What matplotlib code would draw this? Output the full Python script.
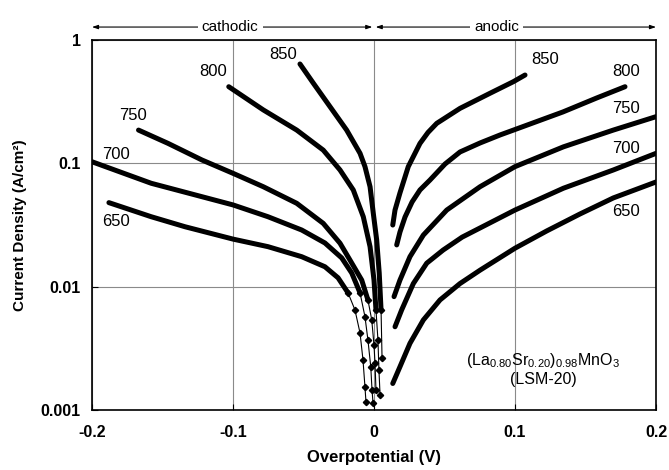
import matplotlib
matplotlib.use('Agg')
import matplotlib.pyplot as plt
import matplotlib.transforms as mtransforms

plt.rcParams['font.family'] = ['Liberation Sans', 'DejaVu Sans']
plt.rcParams['mathtext.fontset'] = 'custom'
plt.rcParams['mathtext.rm'] = 'Liberation Sans'
plt.rcParams['mathtext.it'] = 'Liberation Sans:italic'
plt.rcParams['mathtext.bf'] = 'Liberation Sans:bold'

# ---------------- data (overpotential V, current density A/cm2) ----------------
temps = [650, 700, 750, 800, 850]

# cathodic branches
eta_c_650 = [-0.188, -0.158, -0.134, -0.100, -0.0752, -0.0513, -0.0348, -0.0255, -0.0184, -0.0135, -0.0099, -0.0078, -0.0064, -0.0057]
j_c_650 = [0.048, 0.0369, 0.0306, 0.0243, 0.0211, 0.0175, 0.0145, 0.0118, 0.0089, 0.00647, 0.0042, 0.00254, 0.00153, 0.00116]

eta_c_700 = [-0.200, -0.158, -0.100, -0.0752, -0.0513, -0.0348, -0.0229, -0.0158, -0.0099, -0.0064, -0.0043, -0.0023, -0.0014, -0.0007]
j_c_700 = [0.103, 0.0689, 0.046, 0.0369, 0.0288, 0.0226, 0.0171, 0.0129, 0.0089, 0.0057, 0.00369, 0.00224, 0.00145, 0.00114]

eta_c_750 = [-0.167, -0.146, -0.122, -0.100, -0.0785, -0.0548, -0.036, -0.0241, -0.017, -0.0087, -0.0043, -0.0016, 0.0, 0.0007, 0.0014]
j_c_750 = [0.186, 0.145, 0.1064, 0.083, 0.0646, 0.0474, 0.0326, 0.0225, 0.0164, 0.0113, 0.0078, 0.00537, 0.00336, 0.0024, 0.00145]

eta_c_800 = [-0.103, -0.0785, -0.0548, -0.036, -0.0241, -0.0147, -0.0076, -0.0028, 0.0, 0.0014, 0.0028, 0.0035, 0.0043]
j_c_800 = [0.418, 0.271, 0.186, 0.128, 0.0883, 0.0608, 0.0369, 0.0211, 0.0113, 0.00647, 0.00369, 0.00211, 0.00132]

eta_c_850 = [-0.0525, -0.043, -0.0312, -0.0194, -0.0099, -0.0064, -0.0028, -0.0005, 0.0019, 0.003, 0.0037, 0.005, 0.0057]
j_c_850 = [0.639, 0.446, 0.288, 0.186, 0.1205, 0.094, 0.0646, 0.0393, 0.0239, 0.0164, 0.0129, 0.00647, 0.00264]

# anodic branches
eta_a_650 = [0.0133, 0.0184, 0.0255, 0.035, 0.0468, 0.061, 0.0752, 0.100, 0.1225, 0.146, 0.1697, 0.200]
j_a_650 = [0.00164, 0.00224, 0.00347, 0.00537, 0.0078, 0.0106, 0.0136, 0.0205, 0.0283, 0.0388, 0.0524, 0.0706]

eta_a_700 = [0.0149, 0.0196, 0.0279, 0.0374, 0.049, 0.0625, 0.100, 0.1343, 0.1697, 0.200]
j_a_700 = [0.00473, 0.00647, 0.0106, 0.0155, 0.0198, 0.0252, 0.0418, 0.0628, 0.0883, 0.1205]

eta_a_750 = [0.0142, 0.0184, 0.0255, 0.035, 0.0516, 0.0752, 0.100, 0.1343, 0.1697, 0.200]
j_a_750 = [0.0083, 0.0113, 0.0175, 0.0262, 0.0418, 0.0646, 0.094, 0.136, 0.186, 0.239]

eta_a_800 = [0.0161, 0.0184, 0.022, 0.027, 0.0326, 0.0397, 0.0504, 0.061, 0.0752, 0.0894, 0.100, 0.134, 0.158, 0.178]
j_a_800 = [0.0218, 0.0277, 0.0367, 0.0486, 0.0608, 0.0732, 0.0988, 0.1236, 0.1462, 0.1698, 0.188, 0.261, 0.339, 0.418]

eta_a_850 = [0.0133, 0.0149, 0.0184, 0.0243, 0.0326, 0.0383, 0.0445, 0.061, 0.0823, 0.0988, 0.1071]
j_a_850 = [0.0316, 0.0418, 0.0575, 0.094, 0.145, 0.178, 0.211, 0.279, 0.370, 0.459, 0.520]

# label positions for the temperature tags
lab_c_eta = [-0.183, -0.183, -0.1707, -0.114, -0.0643]
lab_c_j = [0.0336, 0.119, 0.246, 0.553, 0.756]
lab_a_eta = [0.179, 0.179, 0.179, 0.179, 0.1213]
lab_a_j = [0.0405, 0.1326, 0.279, 0.553, 0.689]

x_ticks = [-0.2, -0.1, 0.0, 0.1, 0.2]
x_ticklabels = ['-0.2', '-0.1', '0', '0.1', '0.2']
y_ticks = [0.001, 0.01, 0.1, 1]
y_ticklabels = ['0.001', '0.01', '0.1', '1']

cathodic = {650: (eta_c_650, j_c_650), 700: (eta_c_700, j_c_700), 750: (eta_c_750, j_c_750),
            800: (eta_c_800, j_c_800), 850: (eta_c_850, j_c_850)}
anodic = {650: (eta_a_650, j_a_650), 700: (eta_a_700, j_a_700), 750: (eta_a_750, j_a_750),
          800: (eta_a_800, j_a_800), 850: (eta_a_850, j_a_850)}

# ---------------- figure ----------------
fig = plt.figure(figsize=(6.69, 4.70), dpi=100)
ax = fig.add_axes([0.1375, 0.1277, 0.8431, 0.7872])
ax.set_yscale('log')
ax.set_xlim(-0.2, 0.2)
ax.set_ylim(0.001, 1)

ax.grid(True, which='major', color='#8a8a8a', lw=0.8)
ax.set_axisbelow(True)

thick = 3.6
for t in temps:
    e, j = cathodic[t]
    dense = [k for k in range(len(j)) if j[k] >= 0.01]
    last = dense[-1] + 1 if dense else 0
    ax.plot(e[:last + 1], j[:last + 1], '-', color='black', lw=thick,
            solid_capstyle='round', solid_joinstyle='round', zorder=3)
    ax.plot(e[last:], j[last:], '-', color='black', lw=0.8, marker='D', ms=3.2, zorder=3)
    ea, ja = anodic[t]
    ax.plot(ea, ja, '-', color='black', lw=thick, solid_capstyle='round',
            solid_joinstyle='round', zorder=3)

for i, t in enumerate(temps):
    ax.text(lab_c_eta[i], lab_c_j[i], str(t), fontsize=12, ha='center', va='center')
    ax.text(lab_a_eta[i], lab_a_j[i], str(t), fontsize=12, ha='center', va='center')

ax.text(0.120, 0.00254, r'(La$_{0.80}$Sr$_{0.20}$)$_{0.98}$MnO$_3$', fontsize=11.5,
        ha='center', va='center')
ax.text(0.120, 0.00178, '(LSM-20)', fontsize=11.5, ha='center', va='center')

ax.set_xticks(x_ticks)
ax.set_xticklabels(x_ticklabels, fontweight='bold')
ax.set_yticks(y_ticks)
ax.set_yticklabels(y_ticklabels, fontweight='bold')
ax.minorticks_off()
ax.tick_params(axis='both', direction='in', length=4, width=0.8, labelsize=11.5)
ax.tick_params(axis='x', pad=11)
ax.tick_params(axis='y', pad=8)
for s in ax.spines.values():
    s.set_linewidth(1.2)

ax.set_xlabel('Overpotential (V)', fontsize=12, fontweight='bold', labelpad=7)
ax.set_ylabel('Current Density (A/cm²)', fontsize=11, fontweight='bold', labelpad=10)

# top region arrows
trans = mtransforms.blended_transform_factory(ax.transData, ax.transAxes)
ya = 1.035
for x0, x1, xt, txt in [(-0.2, -0.0012, -0.102, 'cathodic'), (0.0012, 0.2, 0.087, 'anodic')]:
    ax.annotate('', xy=(x0, ya), xytext=(x1, ya), xycoords=trans, textcoords=trans,
                arrowprops=dict(arrowstyle='<|-|>,head_length=0.35,head_width=0.12',
                                lw=0.8, color='black', shrinkA=0, shrinkB=0),
                annotation_clip=False)
    ax.text(xt, ya, txt, transform=trans, fontsize=11, ha='center', va='center',
            bbox=dict(facecolor='white', edgecolor='none', pad=3), clip_on=False)

fig.savefig('out.png', dpi=100)
